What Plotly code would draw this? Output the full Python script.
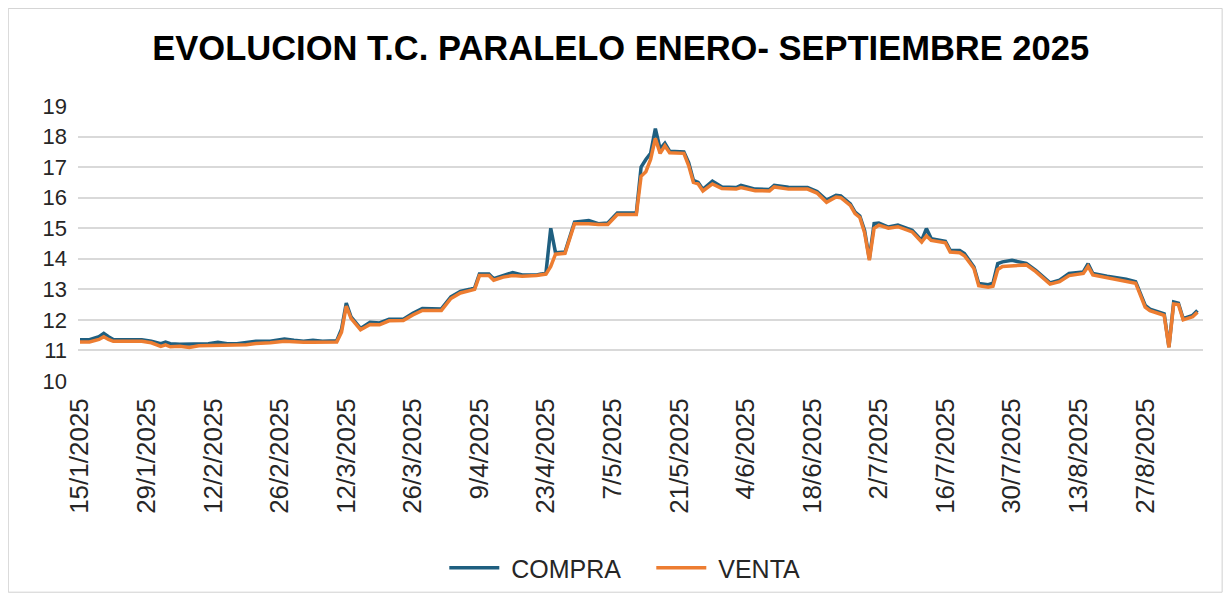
import plotly.graph_objects as go

fechas = [
    "2025-01-15", "2025-01-17", "2025-01-19", "2025-01-20", "2025-01-21", "2025-01-22",
    "2025-01-24", "2025-01-28", "2025-01-30", "2025-02-01", "2025-02-02", "2025-02-03",
    "2025-02-05", "2025-02-07", "2025-02-09", "2025-02-11", "2025-02-13", "2025-02-15",
    "2025-02-17", "2025-02-19", "2025-02-21", "2025-02-24", "2025-02-27", "2025-03-01",
    "2025-03-03", "2025-03-05", "2025-03-07", "2025-03-10", "2025-03-11", "2025-03-12",
    "2025-03-13", "2025-03-15", "2025-03-17", "2025-03-19", "2025-03-21", "2025-03-24",
    "2025-03-26", "2025-03-28", "2025-04-01", "2025-04-03", "2025-04-05", "2025-04-07",
    "2025-04-08", "2025-04-09", "2025-04-11", "2025-04-12", "2025-04-14", "2025-04-16",
    "2025-04-18", "2025-04-21", "2025-04-22", "2025-04-23", "2025-04-24", "2025-04-25",
    "2025-04-27", "2025-04-28", "2025-04-29", "2025-05-02", "2025-05-04", "2025-05-06",
    "2025-05-08", "2025-05-12", "2025-05-13", "2025-05-14", "2025-05-15", "2025-05-16",
    "2025-05-17", "2025-05-18", "2025-05-19", "2025-05-22", "2025-05-23", "2025-05-24",
    "2025-05-25", "2025-05-26", "2025-05-28", "2025-05-30", "2025-06-02", "2025-06-03",
    "2025-06-06", "2025-06-09", "2025-06-10", "2025-06-13", "2025-06-17", "2025-06-19",
    "2025-06-21", "2025-06-23", "2025-06-24", "2025-06-26", "2025-06-27", "2025-06-28",
    "2025-06-29", "2025-06-30", "2025-07-01", "2025-07-02", "2025-07-04", "2025-07-06",
    "2025-07-09", "2025-07-11", "2025-07-12", "2025-07-13", "2025-07-16", "2025-07-17",
    "2025-07-19", "2025-07-20", "2025-07-22", "2025-07-23", "2025-07-25", "2025-07-26",
    "2025-07-27", "2025-07-28", "2025-07-30", "2025-08-02", "2025-08-04", "2025-08-07",
    "2025-08-09", "2025-08-11", "2025-08-14", "2025-08-15", "2025-08-16", "2025-08-19",
    "2025-08-23", "2025-08-25", "2025-08-27", "2025-08-28", "2025-08-30", "2025-08-31",
    "2025-09-01", "2025-09-02", "2025-09-03", "2025-09-04", "2025-09-06", "2025-09-07",
]

compra = [
    11.35, 11.35, 11.45, 11.56, 11.45, 11.36,
    11.35, 11.35, 11.30, 11.22, 11.27, 11.22,
    11.20, 11.20, 11.22, 11.22, 11.27, 11.22,
    11.22, 11.26, 11.30, 11.30, 11.37, 11.33,
    11.30, 11.33, 11.30, 11.32, 11.70, 12.55,
    12.10, 11.72, 11.92, 11.90, 12.02, 12.02,
    12.22, 12.37, 12.36, 12.75, 12.93, 13.00,
    13.05, 13.50, 13.50, 13.35, 13.45, 13.55,
    13.47, 13.47, 13.50, 13.55, 15.00, 14.20,
    14.22, 14.70, 15.20, 15.25, 15.15, 15.17,
    15.50, 15.50, 17.00, 17.25, 17.45, 18.26,
    17.60, 17.78, 17.52, 17.50, 17.15, 16.57,
    16.50, 16.27, 16.54, 16.35, 16.33, 16.40,
    16.28, 16.27, 16.40, 16.34, 16.33, 16.20,
    15.92, 16.08, 16.06, 15.80, 15.53, 15.40,
    14.93, 14.00, 15.15, 15.17, 15.04, 15.10,
    14.93, 14.60, 14.99, 14.66, 14.57, 14.28,
    14.27, 14.17, 13.73, 13.19, 13.15, 13.20,
    13.84, 13.90, 13.95, 13.85, 13.62, 13.21,
    13.30, 13.52, 13.57, 13.84, 13.52, 13.43,
    13.33, 13.25, 12.48, 12.35, 12.26, 12.20,
    11.11, 12.59, 12.55, 12.04, 12.15, 12.31,
]

venta = [
    11.28, 11.28, 11.36, 11.45, 11.36, 11.30,
    11.30, 11.30, 11.25, 11.13, 11.18, 11.12,
    11.14, 11.10, 11.15, 11.16, 11.18, 11.18,
    11.18, 11.19, 11.23, 11.25, 11.30, 11.28,
    11.27, 11.27, 11.27, 11.28, 11.60, 12.45,
    12.05, 11.68, 11.85, 11.84, 11.97, 11.98,
    12.16, 12.31, 12.31, 12.70, 12.88, 12.95,
    13.00, 13.45, 13.45, 13.30, 13.40, 13.45,
    13.43, 13.45, 13.47, 13.50, 13.75, 14.15,
    14.18, 14.65, 15.15, 15.15, 15.12, 15.12,
    15.45, 15.45, 16.70, 16.85, 17.25, 17.94,
    17.45, 17.70, 17.47, 17.45, 17.05, 16.50,
    16.45, 16.22, 16.45, 16.30, 16.28, 16.33,
    16.23, 16.22, 16.35, 16.28, 16.28, 16.15,
    15.85, 16.02, 16.00, 15.75, 15.48, 15.35,
    14.85, 13.95, 15.00, 15.10, 15.00, 15.05,
    14.88, 14.55, 14.75, 14.60, 14.52, 14.22,
    14.20, 14.10, 13.68, 13.12, 13.07, 13.10,
    13.65, 13.75, 13.78, 13.80, 13.58, 13.17,
    13.25, 13.45, 13.52, 13.75, 13.47, 13.38,
    13.28, 13.20, 12.42, 12.30, 12.20, 12.15,
    11.10, 12.52, 12.50, 12.00, 12.10, 12.25,
]

tick_fechas = [
    "2025-01-15", "2025-01-29", "2025-02-12", "2025-02-26", "2025-03-12", "2025-03-26",
    "2025-04-09", "2025-04-23", "2025-05-07", "2025-05-21", "2025-06-04", "2025-06-18",
    "2025-07-02", "2025-07-16", "2025-07-30", "2025-08-13", "2025-08-27",
]
tick_textos = [
    "15/1/2025", "29/1/2025", "12/2/2025", "26/2/2025", "12/3/2025", "26/3/2025",
    "9/4/2025", "23/4/2025", "7/5/2025", "21/5/2025", "4/6/2025", "18/6/2025",
    "2/7/2025", "16/7/2025", "30/7/2025", "13/8/2025", "27/8/2025",
]

FONT = "Liberation Sans, Arial, sans-serif"

fig = go.Figure()

fig.add_trace(go.Scatter(
    x=fechas, y=compra, name=" COMPRA", mode="lines",
    line=dict(color="#1f5f80", width=3.5)))

fig.add_trace(go.Scatter(
    x=fechas, y=venta, name=" VENTA", mode="lines",
    line=dict(color="#ed7d31", width=3.5)))

# the page body adds 8px around the figure
fig.update_layout(
    width=1223, height=593,
    margin=dict(l=70, r=28, t=98, b=220, autoexpand=False),
    paper_bgcolor="white",
    plot_bgcolor="white",
    font=dict(family=FONT, color="#262626"),
    title=dict(
        text="<b>EVOLUCION T.C. PARALELO ENERO- SEPTIEMBRE 2025</b>",
        x=0.501, xanchor="center", y=0.933, yanchor="middle",
        font=dict(size=34.5, color="black", family=FONT)),
    showlegend=True,
    legend=dict(
        orientation="h", x=0.3256, xanchor="left", y=-0.68, yanchor="middle",
        font=dict(size=25, color="#262626"),
        itemwidth=50, entrywidth=142,
        bgcolor="rgba(0,0,0,0)"),
    shapes=[dict(
        type="rect", xref="paper", yref="paper",
        x0=-0.062, x1=1.017, y0=-0.768, y1=1.355,
        line=dict(color="#d0d0d0", width=1))],
)

fig.update_xaxes(
    type="date", automargin=False,
    range=["2025-01-14 14:00", "2025-09-08 04:00"],
    tickmode="array", tickvals=tick_fechas, ticktext=tick_textos,
    tickangle=-90, tickfont=dict(size=26, color="#262626"),
    ticklabelstandoff=11,
    showgrid=False, showline=False, zeroline=False, ticks="")

fig.update_yaxes(
    automargin=False,
    range=[10, 19], dtick=1, tick0=10,
    tickfont=dict(size=22, color="#262626"),
    ticklabelstandoff=10,
    showgrid=True, gridcolor="#d9d9d9", gridwidth=1.5,
    zeroline=False, showline=False, ticks="")

fig.write_html("out.html")
